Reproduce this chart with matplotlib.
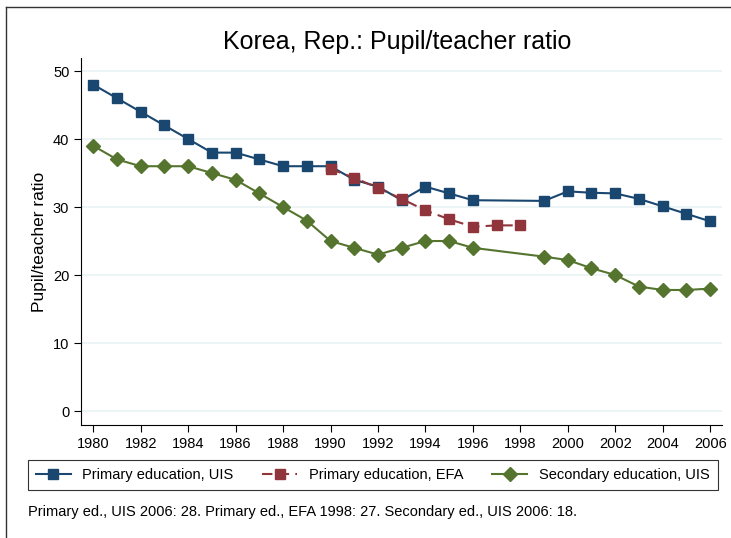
import matplotlib.pyplot as plt
from matplotlib.lines import Line2D

years_uis = [1980, 1981, 1982, 1983, 1984, 1985, 1986, 1987, 1988, 1989, 1990,
             1991, 1992, 1993, 1994, 1995, 1996, 1999, 2000, 2001, 2002, 2003,
             2004, 2005, 2006]
primary_uis = [48, 46, 44, 42, 40, 38, 38, 37, 36, 36, 36,
               34, 33, 31, 33, 32, 31, 30.9, 32.3, 32.1, 32.0, 31.2,
               30.1, 29, 27.9]
secondary_uis = [39, 37, 36, 36, 36, 35, 34, 32, 30, 28, 25,
                 24, 23, 24, 25, 25, 24, 22.7, 22.2, 21, 20, 18.3,
                 17.8, 17.8, 18]
years_efa = [1990, 1991, 1992, 1993, 1994, 1995, 1996, 1997, 1998]
primary_efa = [35.6, 34.3, 32.8, 31.2, 29.5, 28.2, 27.1, 27.3, 27.3]

xticks = list(range(1980, 2007, 2))
yticks = [0, 10, 20, 30, 40, 50]

blue = "#1a476f"
red = "#90353b"
green = "#55752f"

plt.rcParams["font.family"] = ["Liberation Sans", "DejaVu Sans"]

fig = plt.figure(figsize=(7.31, 5.38), dpi=100)

# outer graph frame (only top/left edges fall inside the image)
fig.add_artist(Line2D([6 / 731, 1.0], [1 - 7 / 538, 1 - 7 / 538],
                      color="#333333", lw=1.0))
fig.add_artist(Line2D([6 / 731, 6 / 731], [0.0, 1 - 7 / 538],
                      color="#333333", lw=1.0))

ax = fig.add_axes([0.111, 0.21, 0.877, 0.682])

for y in yticks:
    ax.axhline(y, color="#eaf2f3", lw=1.2, zorder=0)

ax.plot(years_uis, primary_uis, color=blue, marker="s", ms=7, lw=1.5,
        label="Primary education, UIS", zorder=3)
ax.plot(years_efa, primary_efa, color=red, marker="s", ms=7, lw=1.5,
        ls=(0, (5, 3)), label="Primary education, EFA", zorder=4)
ax.plot(years_uis, secondary_uis, color=green, marker="D", ms=7, lw=1.5,
        label="Secondary education, UIS", zorder=3)

ax.set_xlim(1979.49, 2006.51)
ax.set_ylim(-2.06, 51.9)
ax.set_xticks(xticks)
ax.set_yticks(yticks)
ax.tick_params(labelsize=10.5, length=5, color="black")
ax.spines["top"].set_visible(False)
ax.spines["right"].set_visible(False)
ax.set_ylabel("Pupil/teacher ratio", fontsize=12.5)
fig.text(0.543, 0.922, "Korea, Rep.: Pupil/teacher ratio", ha="center",
         va="center", fontsize=18)

leg = fig.legend(loc="upper left", bbox_to_anchor=(0.038, 0.145, 0.944, 0.0),
                 mode="expand", ncol=3, fontsize=10.5, frameon=True,
                 fancybox=False, edgecolor="black", borderaxespad=0,
                 handlelength=2.4, markerscale=1.0, borderpad=0.55)
leg.get_frame().set_linewidth(0.8)

fig.text(0.038, 0.048,
         "Primary ed., UIS 2006: 28. Primary ed., EFA 1998: 27. "
         "Secondary ed., UIS 2006: 18.", fontsize=10.5, va="center")

fig.savefig("out.png", dpi=100, facecolor="white")
